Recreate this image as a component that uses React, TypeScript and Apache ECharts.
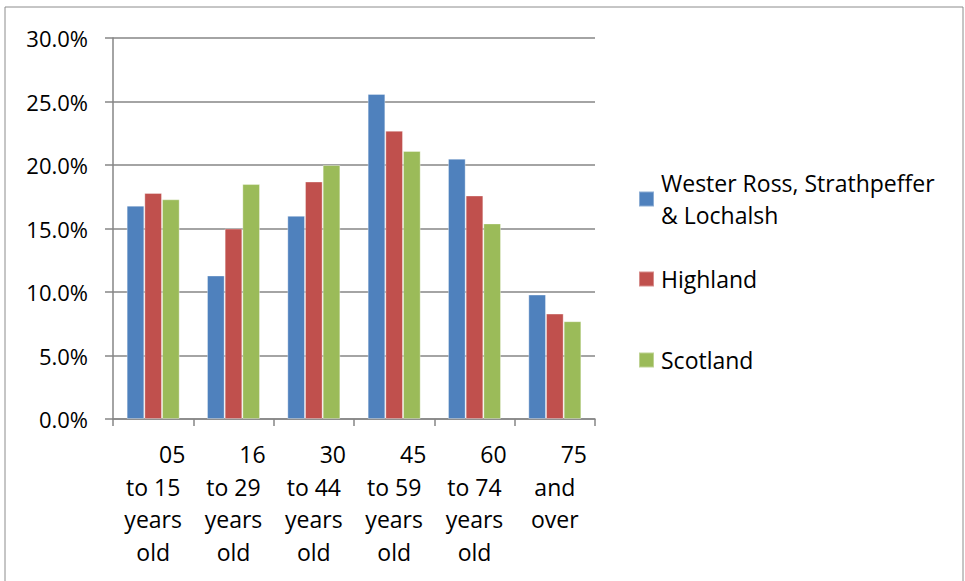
import React, { useEffect, useRef } from "react";
import * as echarts from "echarts";

const categories = [
  "05\nto 15\nyears\nold",
  "16\nto 29\nyears\nold",
  "30\nto 44\nyears\nold",
  "45\nto 59\nyears\nold",
  "60\nto 74\nyears\nold",
  "75\nand\nover",
];
const seriesNames = ["Wester Ross, Strathpeffer & Lochalsh", "Highland", "Scotland"];
const westerRoss = [16.8, 11.3, 16.0, 25.6, 20.5, 9.8];
const highland = [17.8, 15.0, 18.7, 22.7, 17.6, 8.3];
const scotland = [17.3, 18.5, 20.0, 21.1, 15.4, 7.7];
const yTicks = { min: 0, max: 30, interval: 5 };
const colors = ["#4F81BD", "#C0504D", "#9BBB59"];

const FONT = "Open Sans";
const BIG = 23;

export default function App() {
  const ref = useRef<HTMLDivElement>(null);
  useEffect(() => {
    if (!ref.current) return;
    const chart = echarts.init(ref.current, null, { renderer: "svg" });
    const values = [westerRoss, highland, scotland];
    const legendCommon = {
      orient: "vertical" as const,
      left: 638,
      padding: 0,
      icon: "rect",
      itemWidth: 15,
      itemHeight: 15,
      selectedMode: false,
      textStyle: { fontFamily: FONT, fontSize: BIG, color: "#000", lineHeight: 32, padding: [0, 0, 0, 2] },
    };
    chart.setOption({
      animation: false,
      backgroundColor: "#fff",
      color: colors,
      graphic: [
        {
          type: "rect",
          shape: { x: 5, y: 7, width: 958, height: 620 },
          style: { fill: "none", stroke: "#8c8c8c", lineWidth: 1 },
          silent: true,
        },
      ],
      legend: [
        {
          ...legendCommon,
          top: 151,
          data: [seriesNames[0]],
          formatter: () => "Wester Ross, Strathpeffer\n& Lochalsh",
          textStyle: { ...legendCommon.textStyle, padding: [32, 0, 0, 2] },
        },
        { ...legendCommon, top: 263, data: [seriesNames[1]] },
        { ...legendCommon, top: 344, data: [seriesNames[2]] },
      ],
      grid: { left: 113, right: 370, top: 38, bottom: 162 },
      xAxis: {
        type: "category",
        data: categories,
        axisLine: { lineStyle: { color: "#868686", width: 1.5 } },
        axisTick: { show: true, length: 7, lineStyle: { color: "#868686", width: 1.5 } },
        axisLabel: {
          interval: 0,
          margin: 19,
          fontFamily: FONT,
          fontSize: BIG,
          color: "#000",
          lineHeight: 32.5,
          formatter: (v: string) => {
            const lines = v.split("\n");
            return "{a|" + lines[0] + "}\n" + lines.slice(1).join("\n");
          },
          rich: {
            a: { fontFamily: FONT, fontSize: BIG, color: "#000", lineHeight: 32.5, padding: [0, 0, 0, 38] },
          },
        },
      },
      yAxis: {
        type: "value",
        min: yTicks.min,
        max: yTicks.max,
        interval: yTicks.interval,
        axisLine: { show: true, lineStyle: { color: "#868686", width: 1.5 } },
        axisTick: { show: true, length: 8, lineStyle: { color: "#868686", width: 1.5 } },
        splitLine: { lineStyle: { color: "#868686", width: 1.5 } },
        axisLabel: {
          margin: 25,
          fontFamily: FONT,
          fontSize: 22,
          color: "#000",
          formatter: (v: number) => v.toFixed(1) + "%",
        },
      },
      series: seriesNames.map((name, i) => ({
        name,
        type: "bar",
        data: values[i],
        barGap: "0%",
        barCategoryGap: "34%",
        itemStyle: { color: colors[i], borderColor: "rgba(255,255,255,0.35)", borderWidth: 1 },
      })),
    });
    return () => chart.dispose();
  }, []);
  return <div ref={ref} style={{ position: "fixed", left: 0, top: 0, width: 965, height: 581 }} />;
}
